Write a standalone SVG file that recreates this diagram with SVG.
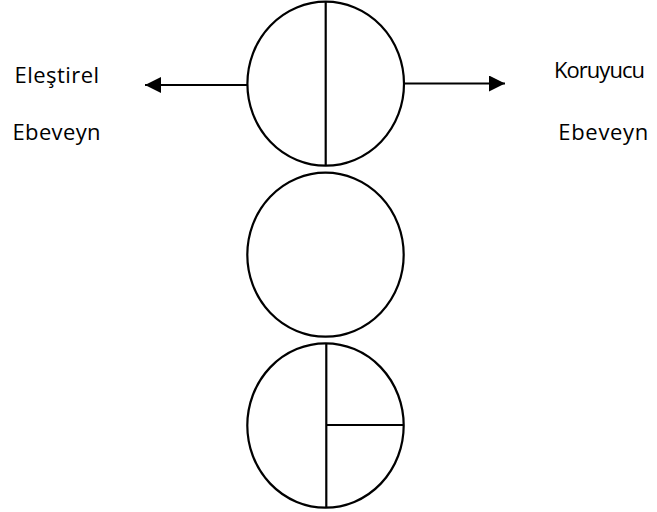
<svg xmlns="http://www.w3.org/2000/svg" width="657" height="512" viewBox="0 0 657 512">
<style>
.shape{fill:#fff;stroke:#000;stroke-width:2.2}
.ln{stroke:#000;stroke-width:2.2;fill:none}
.lbl{font-family:"Open Sans","Liberation Sans",sans-serif;font-size:22px;fill:#000}
</style>
<defs>
<marker id="ah" markerUnits="userSpaceOnUse" markerWidth="17" markerHeight="16" refX="16" refY="8" orient="auto">
<path d="M0,0 L16,8 L0,16 Z" fill="#000"/>
</marker>
</defs>
<rect width="657" height="512" fill="#fff"/>
<g id="connectors">
<line class="ln" x1="247" y1="85" x2="145" y2="85" marker-end="url(#ah)"/>
<line class="ln" x1="404" y1="83.5" x2="505" y2="83.5" marker-end="url(#ah)"/>
</g>
<g id="node-top">
<ellipse class="shape" cx="325.7" cy="83.7" rx="78.3" ry="82"/>
<line class="ln" x1="325.7" y1="1.7" x2="325.7" y2="165.7"/>
</g>
<g id="node-middle">
<ellipse class="shape" cx="325.5" cy="254.7" rx="78.2" ry="82"/>
</g>
<g id="node-bottom">
<ellipse class="shape" cx="325.5" cy="425.5" rx="78.2" ry="82.2"/>
<line class="ln" x1="326.3" y1="343.3" x2="326.3" y2="507.7"/>
<line class="ln" x1="326.3" y1="425" x2="403.7" y2="425"/>
</g>
<g id="label-left">
<text class="lbl" x="14.5" y="83.3" textLength="84.5" lengthAdjust="spacing">Eleştirel</text>
<text class="lbl" x="12.5" y="140.3" textLength="88" lengthAdjust="spacing">Ebeveyn</text>
</g>
<g id="label-right">
<text class="lbl" x="554" y="77.7" textLength="91" lengthAdjust="spacing">Koruyucu</text>
<text class="lbl" x="558.3" y="140" textLength="90" lengthAdjust="spacing">Ebeveyn</text>
</g>
</svg>
